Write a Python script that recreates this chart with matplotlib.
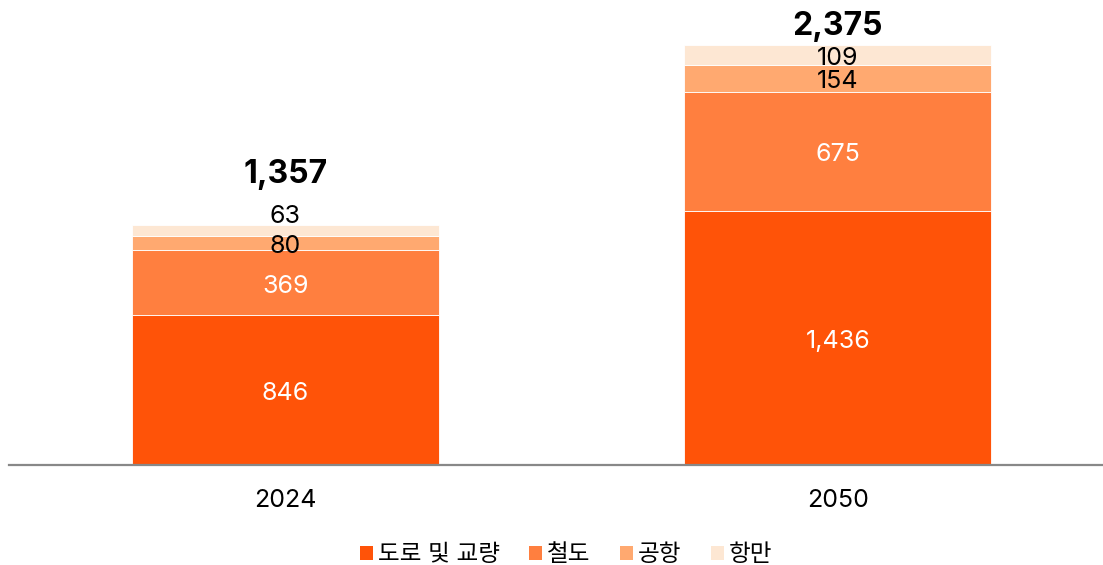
import matplotlib
matplotlib.use('Agg')
from matplotlib import pyplot as plt
from matplotlib.patches import Patch

# data
years = ['2024', '2050']
categories = ['도로 및 교량', '철도', '공항', '항만']
road = [846, 1436]
rail = [369, 675]
airport = [80, 154]
port = [63, 109]
totals = ['1,357', '2,375']

colors = ['#FF5308', '#FF7F3F', '#FFA970', '#FDE7D3']
text_colors = ['white', 'white', 'black', 'black']

plt.rcParams['font.family'] = ['Inter', 'Noto Sans CJK KR', 'DejaVu Sans']

fig = plt.figure(figsize=(11.03, 5.65), dpi=100)
ax = fig.add_axes([9 / 1103, 100 / 565, 1 - 9 / 1103, 465 / 565])

x = range(len(years))
series = [road, rail, airport, port]
bottoms = [0] * len(years)
width = 0.556

for vals, col, tcol in zip(series, colors, text_colors):
    ax.bar(x, vals, width, bottom=bottoms, color=col, edgecolor='white', linewidth=0.6)
    for i, (b, v) in enumerate(zip(bottoms, vals)):
        if v < 70:
            # small slice: label sits just above the bar
            ax.annotate(f'{v:,}', (i, b + v), xytext=(0, 1.4), textcoords='offset points',
                        ha='center', va='baseline', fontsize=18, color=tcol)
        else:
            ax.annotate(f'{v:,}', (i, b + v / 2), xytext=(0, -7.2), textcoords='offset points',
                        ha='center', va='baseline', fontsize=18, color=tcol)
    bottoms = [b + v for b, v in zip(bottoms, vals)]

# totals
total_offsets = [30, 7.5]
for i, (t, off) in enumerate(zip(totals, total_offsets)):
    ax.annotate(t, (i, bottoms[i]), xytext=(0, off), textcoords='offset points',
                ha='center', va='baseline', fontsize=23, fontweight='bold', color='black')

ax.set_xlim(-0.5, 1.48)
ax.set_ylim(0, 2630)
ax.set_xticks(list(x))
ax.set_xticklabels(years, fontsize=18)
ax.tick_params(axis='x', length=0, pad=17)
ax.set_yticks([])
for s in ['top', 'right', 'left']:
    ax.spines[s].set_visible(False)
ax.spines['bottom'].set_color('#888888')
ax.spines['bottom'].set_linewidth(1.6)

handles = [Patch(facecolor=c, edgecolor='none') for c in colors]
fig.legend(handles, categories, loc='center', bbox_to_anchor=(566 / 1103, 1 - 555 / 565),
           ncol=4, frameon=False, fontsize=17, handlelength=0.55, handleheight=0.55,
           handletextpad=0.2, columnspacing=1.25, borderpad=0)

fig.savefig('out.png', dpi=100)
